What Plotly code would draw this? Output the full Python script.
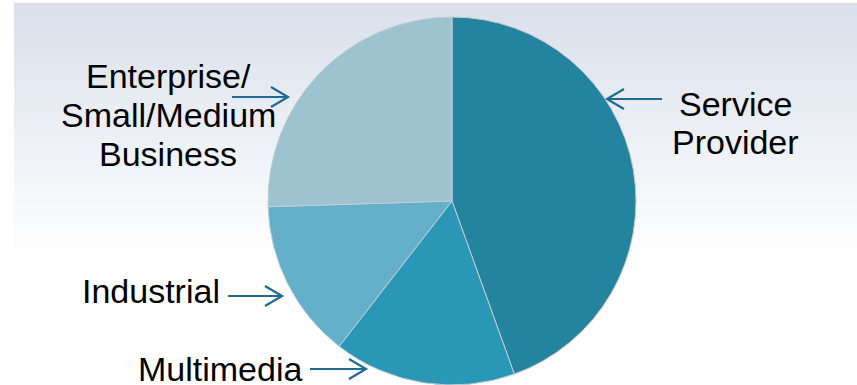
import plotly.graph_objects as go

W, H = 857, 385

# ---- data ----
segments = ["Service Provider", "Multimedia", "Industrial", "Enterprise/Small/Medium Business"]
shares = [44.5, 16.0, 14.0, 25.5]
slice_colors = ["#24839e", "#2b97b6", "#64b0ca", "#9dc2d0"]

label_texts = ["Service<br>Provider", "Multimedia", "Industrial", "Enterprise/<br>Small/Medium<br>Business"]


def px(x):
    return x / W


def py(y):
    return min(1.0, max(0.0, 1 - y / H))


fig = go.Figure()

# pie, centred at pixel (452, 201), radius ~184
cx, cy, r = 452, 201, 184
fig.add_trace(go.Pie(
    labels=segments,
    values=shares,
    sort=False,
    direction="clockwise",
    rotation=0,
    textinfo="none",
    hoverinfo="label+percent",
    marker=dict(colors=slice_colors, line=dict(color="#c3ccd2", width=1)),
    domain=dict(x=[px(cx - r), px(cx + r)], y=[py(cy + r), py(cy - r)]),
    showlegend=False,
))

shapes = []
# background gradient (light blue-grey at top fading to white)
top_c = (217, 224, 236)
y0, y1 = 3, 262
n = 60
for i in range(n):
    t = i / (n - 1)
    c = tuple(round(top_c[k] + (255 - top_c[k]) * t) for k in range(3))
    ya = y0 + (y1 - y0) * i / n
    yb = y0 + (y1 - y0) * (i + 1) / n + 0.6
    shapes.append(dict(type="rect", xref="paper", yref="paper", layer="below",
                       x0=px(14), x1=1, y0=py(yb), y1=py(ya),
                       fillcolor="rgb(%d,%d,%d)" % c, line=dict(width=0)))

# arrows (open chevron heads)
arrow_color = "#1f6a96"


def arrow(x_tail, x_tip, y, head=17, spread=10):
    d = 1 if x_tip > x_tail else -1
    path = (f"M {px(x_tail)},{py(y)} L {px(x_tip)},{py(y)} "
            f"M {px(x_tip - d*head)},{py(y - spread)} L {px(x_tip)},{py(y)} "
            f"L {px(x_tip - d*head)},{py(y + spread)}")
    return dict(type="path", xref="paper", yref="paper", path=path,
                line=dict(color=arrow_color, width=2.2), layer="above")


shapes.append(arrow(232, 288, 97))    # Enterprise
shapes.append(arrow(662, 607, 99))    # Service Provider
shapes.append(arrow(228, 282, 296))   # Industrial
shapes.append(arrow(310, 366, 369))   # Multimedia

font = dict(family="Liberation Sans, Arial, sans-serif", size=34, color="#000000")
# (centre x, first line centre y, line step) in pixels
label_pos = [(735, 104, 38), (220, 369, 38), (151, 291, 38), (168, 76, 39)]
annotations = []
for txt, (x, y, step) in zip(label_texts, label_pos):
    for j, line in enumerate(txt.split("<br>")):
        annotations.append(dict(text=line, x=px(x), y=py(y + j * step), xref="paper", yref="paper",
                                xanchor="center", yanchor="middle", align="center",
                                showarrow=False, font=font))

fig.update_layout(
    width=W, height=H,
    margin=dict(l=0, r=0, t=0, b=0),
    paper_bgcolor="#ffffff",
    plot_bgcolor="rgba(0,0,0,0)",
    shapes=shapes,
    annotations=annotations,
)

fig.write_html("out.html")
